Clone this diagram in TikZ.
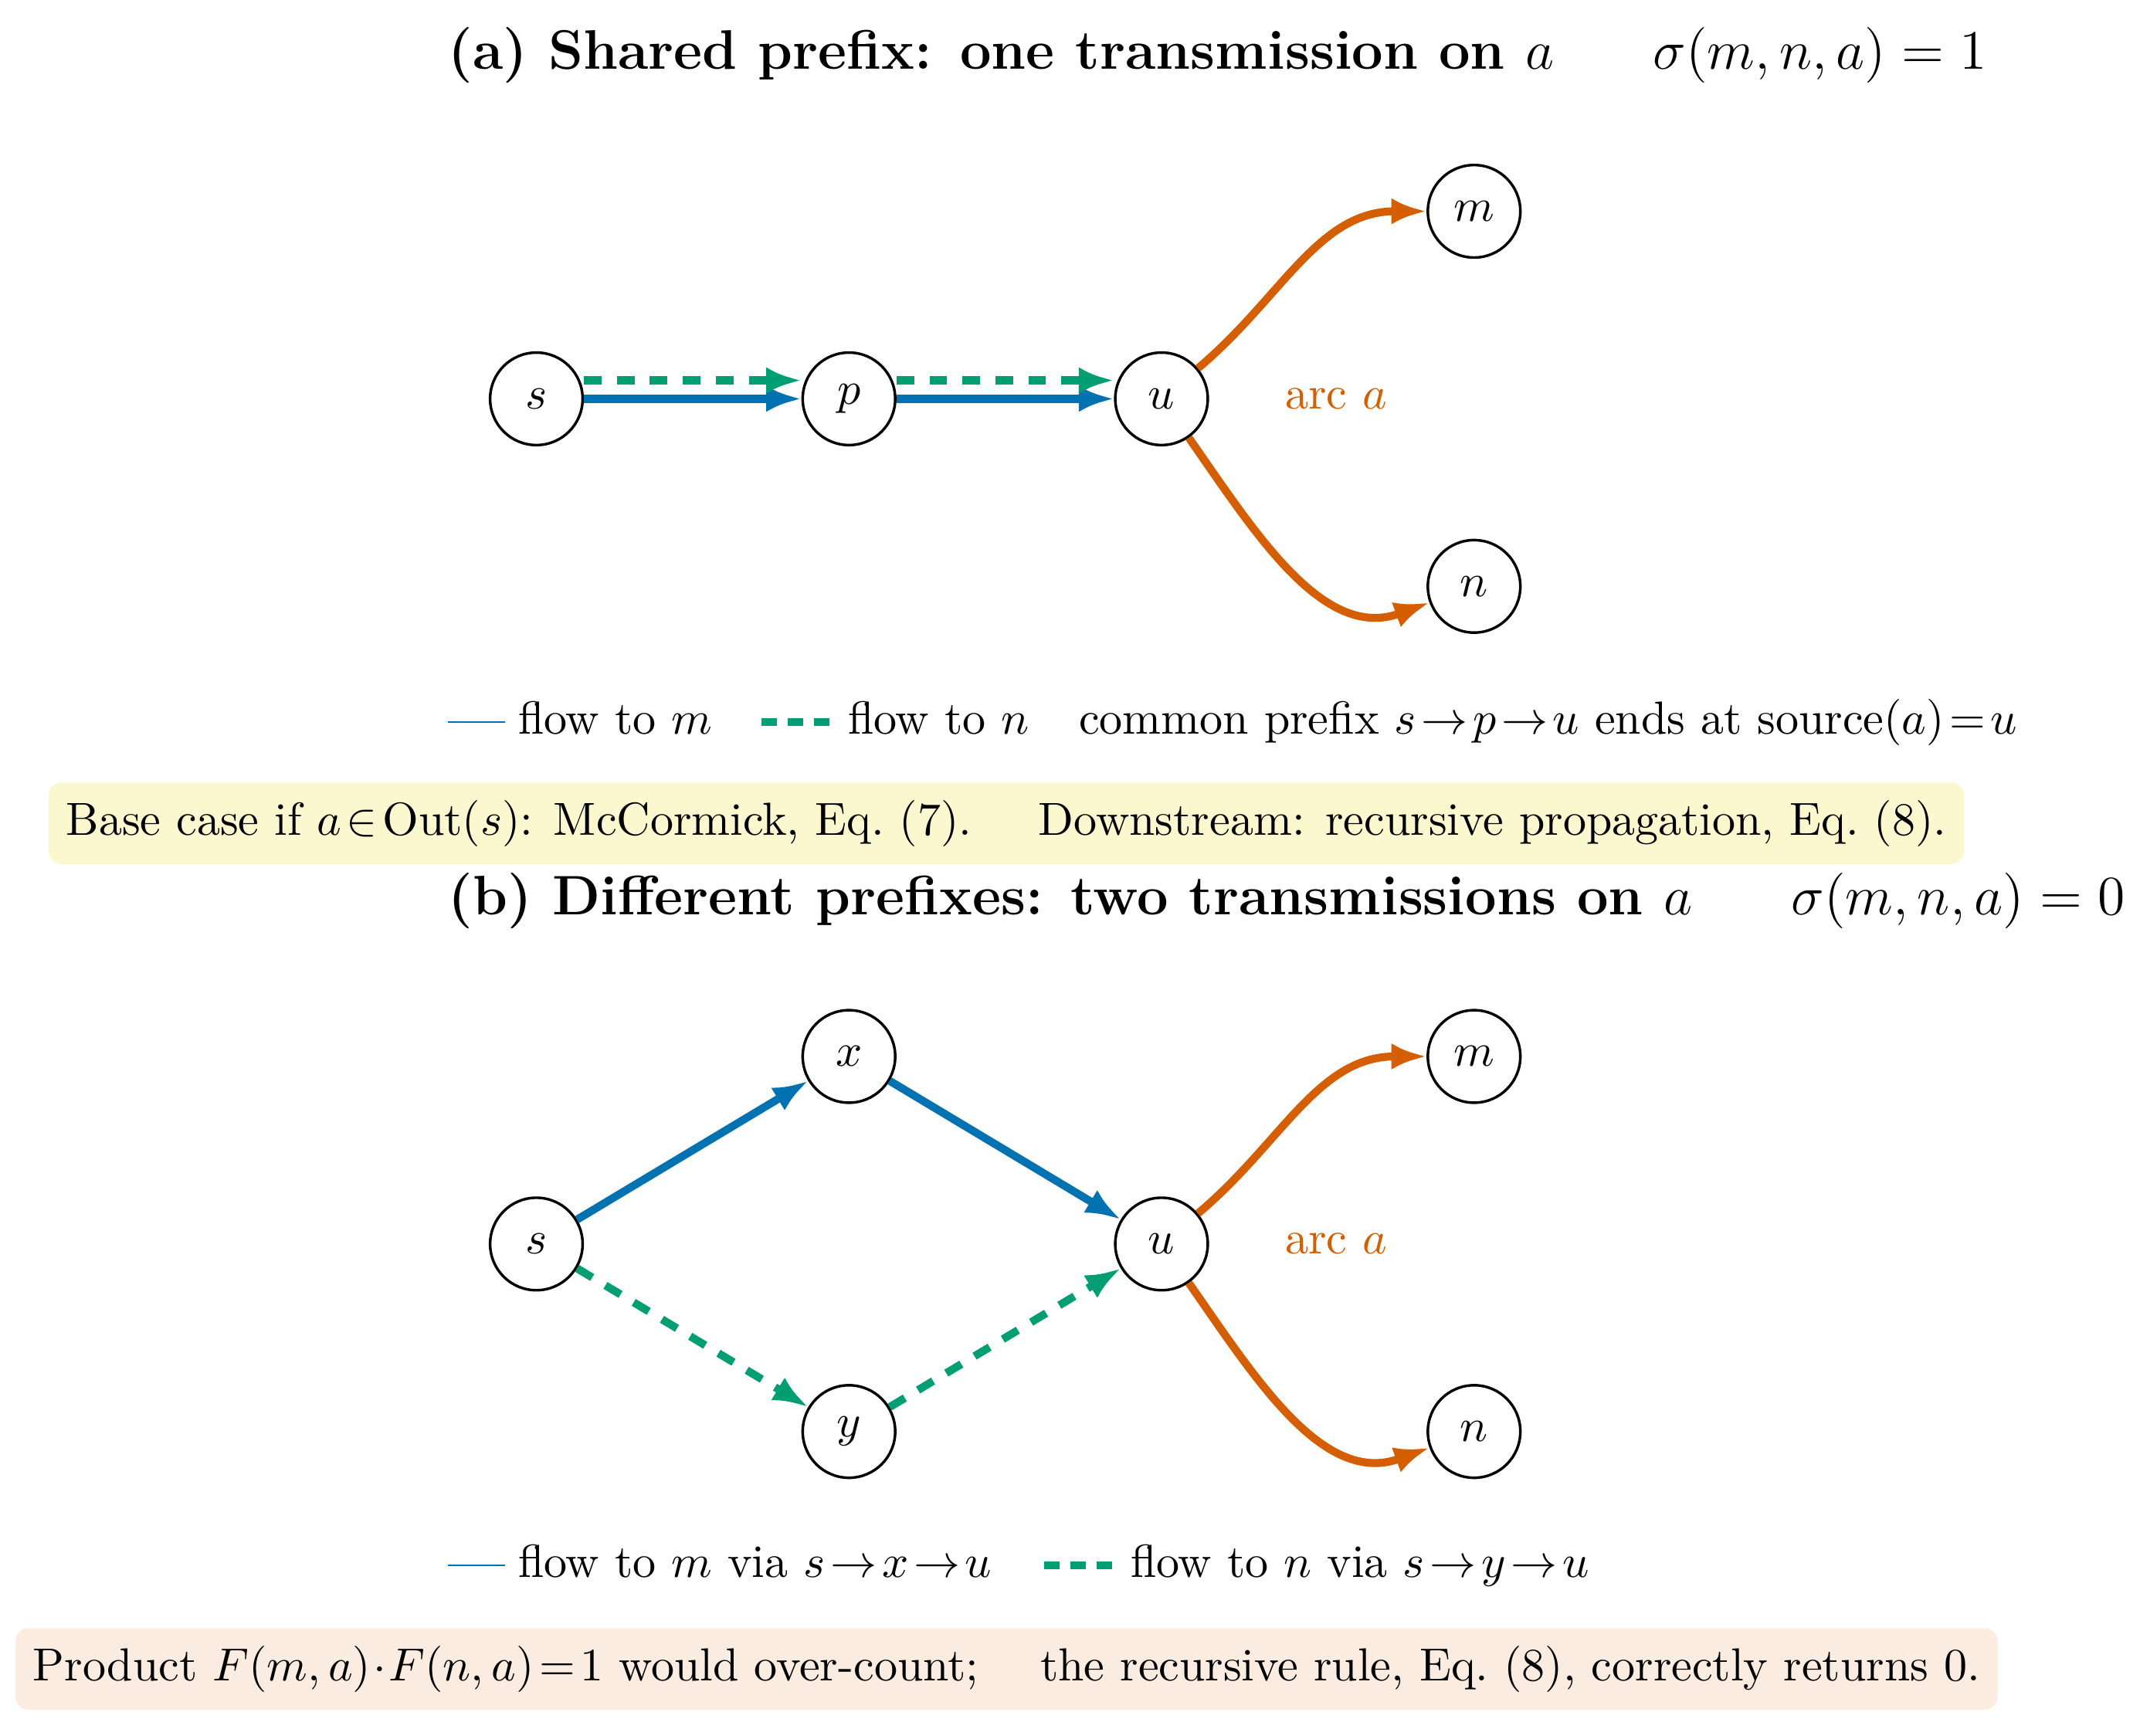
\RequirePackage{fix-cm}
\documentclass[tikz,border=0pt]{standalone}
\usepackage{amsmath}
\usetikzlibrary{arrows.meta}
\definecolor{OIblue}{HTML}{0072B2}
\definecolor{OIgreen}{HTML}{009E73}
\definecolor{OIorange}{HTML}{D55E00}
\definecolor{OIyellow}{HTML}{F0E442}
\begin{document}
\begin{tikzpicture}[
  every node/.style={font=\fontsize{10.55}{12.7}\selectfont},
  vtx/.style={circle, draw, line width=0.6pt, minimum size=0.74cm, inner sep=0pt},
  tip/.style={-{Latex[length=8pt,width=6pt]}},
  flowm/.style={OIblue, line width=1.8pt, tip},
  flown/.style={OIgreen, line width=1.8pt, dash pattern=on 4pt off 3.5pt, tip},
  arcA/.style={OIorange, line width=1.8pt, tip},
  ttl/.style={anchor=west, inner sep=0pt, font=\fontsize{12.66}{15.2}\selectfont\bfseries},
  lgd/.style={anchor=base west, inner sep=0pt},
  lgdm/.style={OIblue, line width=0.5pt},
  lgdn/.style={OIgreen, line width=1.8pt, dash pattern=on 3.5pt off 2.5pt},
  note/.style={rounded corners=3pt, inner xsep=4pt, inner ysep=4pt},
  arclbl/.style={text=OIorange, inner sep=0pt},
]
\useasboundingbox (0,0) rectangle (17.116,-13.885);

% ---------- (a) ----------
\node[ttl] (ta) at (3.58,-0.443) {(a) Shared prefix: one transmission on $a$\hspace{22.5pt}$\sigma(m,n,a)=1$};

\node[vtx] (sA) at (4.29,-3.19) {$s$};
\node[vtx] (pA) at (6.79,-3.19) {$p$};
\node[vtx] (uA) at (9.29,-3.19) {$u$};
\node[vtx] (mA) at (11.79,-1.69) {$m$};
\node[vtx] (nA) at (11.79,-4.69) {$n$};
\node[arclbl] (aA) at (10.686,-3.19) {arc $a$};

\draw[flowm] (sA.east) -- (pA.west);
\draw[flowm] (pA.east) -- (uA.west);
\draw[flown] ([yshift=4.2pt]sA.east) -- ([yshift=4.2pt]pA.west);
\draw[flown] ([yshift=4.2pt]pA.east) -- ([yshift=4.2pt]uA.west);
\draw[arcA] (uA) to[out=40,in=180] (mA);
\draw[arcA] (uA) to[out=-55,in=200] (nA);

\coordinate (la1s) at (3.582,-5.775);
\coordinate (la1e) at (4.040,-5.775);
\draw[lgdm] (la1s) -- (la1e);
\node[lgd] (la1) at (4.138,-5.87) {flow to $m$};
\coordinate (la2s) at (6.090,-5.775);
\coordinate (la2e) at (6.634,-5.775);
\draw[lgdn] (la2s) -- (la2e);
\node[lgd] (la2) at (6.776,-5.87) {flow to $n$};
\node[lgd] (la3) at (8.622,-5.87) {common prefix $s\!\to\!p\!\to\!u$ ends at source$(a)\!=\!u$};

\node[note, fill=OIyellow!25] (nb1) at (8.048,-6.585) {Base case if $a\!\in\!\mathrm{Out}(s)$: McCormick, Eq.~(7). \quad Downstream: recursive propagation, Eq.~(8).};

% ---------- (b) ----------
\node[ttl] (tb) at (3.58,-7.206) {(b) Different prefixes: two transmissions on $a$\hspace{22.5pt}$\sigma(m,n,a)=0$};

\node[vtx] (sB) at (4.29,-9.95) {$s$};
\node[vtx] (xB) at (6.79,-8.45) {$x$};
\node[vtx] (yB) at (6.79,-11.45) {$y$};
\node[vtx] (uB) at (9.29,-9.95) {$u$};
\node[vtx] (mB) at (11.79,-8.45) {$m$};
\node[vtx] (nB) at (11.79,-11.45) {$n$};
\node[arclbl] (aB) at (10.686,-9.95) {arc $a$};

\draw[flowm] (sB) -- (xB);
\draw[flowm] (xB) -- (uB);
\draw[flown] (sB) -- (yB);
\draw[flown] (yB) -- (uB);
\draw[arcA] (uB) to[out=40,in=180] (mB);
\draw[arcA] (uB) to[out=-55,in=200] (nB);

\coordinate (lb1s) at (3.582,-12.520);
\coordinate (lb1e) at (4.040,-12.520);
\draw[lgdm] (lb1s) -- (lb1e);
\node[lgd] (lb1) at (4.138,-12.615) {flow to $m$ via $s\!\to\!x\!\to\!u$};
\coordinate (lb2s) at (8.351,-12.520);
\coordinate (lb2e) at (8.894,-12.520);
\draw[lgdn] (lb2s) -- (lb2e);
\node[lgd] (lb2) at (9.036,-12.615) {flow to $n$ via $s\!\to\!y\!\to\!u$};

\node[note, fill=OIorange!12] (nb2) at (8.05,-13.349) {Product $F(m,a)\!\cdot\!F(n,a)\!=\!1$ would over-count; \quad the recursive rule, Eq.~(8), correctly returns 0.};
\end{tikzpicture}
\end{document}
